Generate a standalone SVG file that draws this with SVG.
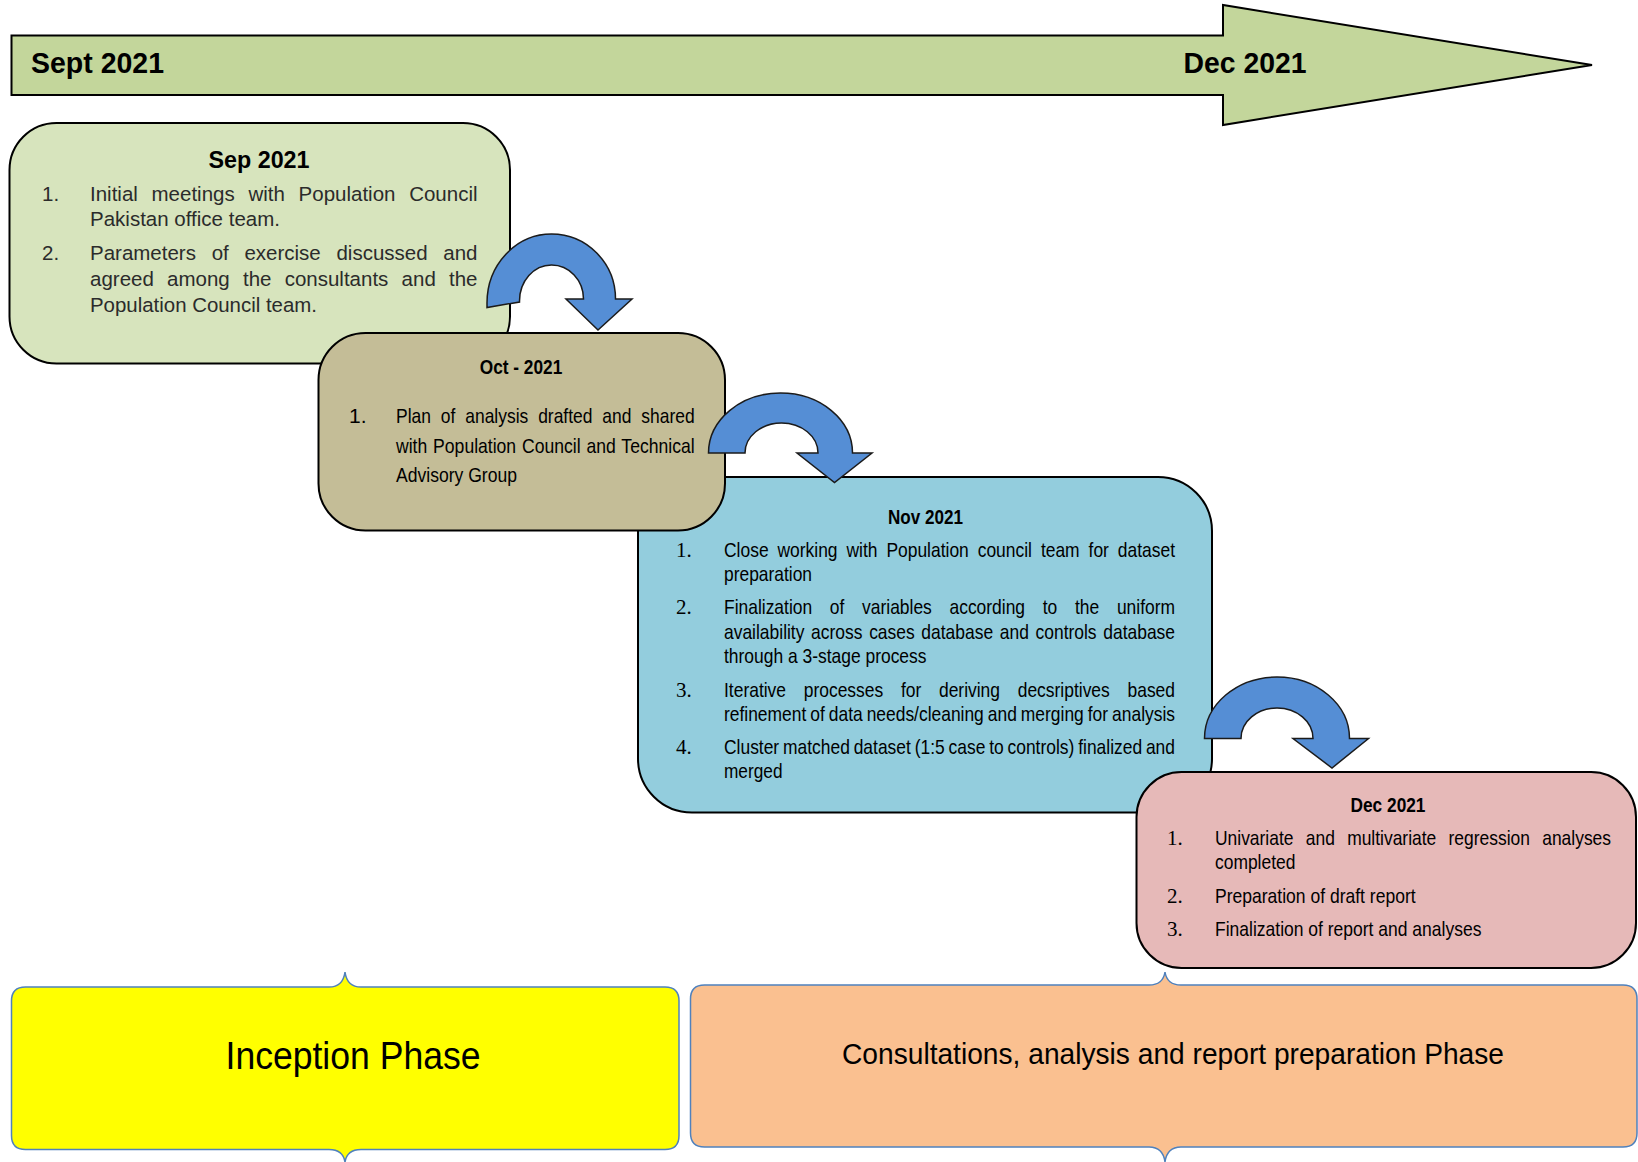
<svg xmlns="http://www.w3.org/2000/svg" width="1638" height="1162" viewBox="0 0 1638 1162">
<style>
.box{stroke:#000;stroke-width:2}
.t{font-family:"Liberation Sans",Arial,sans-serif;fill:#000}
.g{fill:#2b2b2b}
.b{font-weight:bold}
.n{font-family:"Liberation Serif","Times New Roman",serif;font-size:21px;fill:#000}
.s20{font-size:20.5px}
.s21{font-size:21px}
.arr{fill:#558ED5;stroke:#1b1b1b;stroke-width:1.5;stroke-linejoin:miter}
.ph{stroke:#4F81BD;stroke-width:1.5}
</style>
<rect width="1638" height="1162" fill="#fff"/>

<g id="timeline">
<polygon points="11.5,35.5 1223,35.5 1223,5 1592,65 1223,125 1223,95 11.5,95" fill="#C3D69B" stroke="#000" stroke-width="2"/>
<text class="t b" x="31" y="73" font-size="30" textLength="133" lengthAdjust="spacingAndGlyphs">Sept 2021</text>
<text class="t b" x="1183.5" y="73" font-size="30" textLength="123" lengthAdjust="spacingAndGlyphs">Dec 2021</text>
</g>

<g id="sep2021">
<rect class="box" x="9.5" y="123" width="500.5" height="240.5" rx="47" fill="#D7E4BD"/>
<text class="t b" x="259" y="168" font-size="24" text-anchor="middle" textLength="101" lengthAdjust="spacingAndGlyphs">Sep 2021</text>
<text class="t g s20" x="42" y="200.5">1.</text>
<text class="t g s20" x="90" y="200.5" word-spacing="8" textLength="387.5" lengthAdjust="spacingAndGlyphs">Initial meetings with Population Council</text>
<text class="t g s20" x="90" y="225.6" textLength="190" lengthAdjust="spacingAndGlyphs">Pakistan office team.</text>
<text class="t g s20" x="42" y="260">2.</text>
<text class="t g s20" x="90" y="260" word-spacing="10" textLength="387.5" lengthAdjust="spacingAndGlyphs">Parameters of exercise discussed and</text>
<text class="t g s20" x="90" y="286" word-spacing="7.5" textLength="387.5" lengthAdjust="spacingAndGlyphs">agreed among the consultants and the</text>
<text class="t g s20" x="90" y="312" textLength="227" lengthAdjust="spacingAndGlyphs">Population Council team.</text>
</g>

<g id="nov2021">
<rect class="box" x="638" y="477" width="574" height="335.5" rx="54" fill="#93CDDD"/>
<text class="t b" x="925.5" y="523.5" font-size="20" text-anchor="middle" textLength="75" lengthAdjust="spacingAndGlyphs">Nov 2021</text>
<text class="n" x="676" y="557">1.</text>
<text class="t s21" x="724" y="557" word-spacing="4.9" textLength="451" lengthAdjust="spacingAndGlyphs">Close working with Population council team for dataset</text>
<text class="t s21" x="724" y="581" textLength="88" lengthAdjust="spacingAndGlyphs">preparation</text>
<text class="n" x="676" y="614.2">2.</text>
<text class="t s21" x="724" y="614.2" word-spacing="15.5" textLength="451" lengthAdjust="spacingAndGlyphs">Finalization of variables according to the uniform</text>
<text class="t s21" x="724" y="639.3" word-spacing="2.2" textLength="451" lengthAdjust="spacingAndGlyphs">availability across cases database and controls database</text>
<text class="t s21" x="724" y="663.3" textLength="202.5" lengthAdjust="spacingAndGlyphs">through a 3-stage process</text>
<text class="n" x="676" y="696.7">3.</text>
<text class="t s21" x="724" y="696.7" word-spacing="15.5" textLength="451" lengthAdjust="spacingAndGlyphs">Iterative processes for deriving decsriptives based</text>
<text class="t s21" x="724" y="720.8" word-spacing="-1" textLength="451" lengthAdjust="spacingAndGlyphs">refinement of data needs/cleaning and merging for analysis</text>
<text class="n" x="676" y="754.2">4.</text>
<text class="t s21" x="724" y="754.2" word-spacing="-1.2" textLength="451" lengthAdjust="spacingAndGlyphs">Cluster matched dataset (1:5 case to controls) finalized and</text>
<text class="t s21" x="724" y="778.2" textLength="58.5" lengthAdjust="spacingAndGlyphs">merged</text>
</g>

<g id="oct2021">
<rect class="box" x="318.5" y="333" width="406.5" height="197.5" rx="47" fill="#C4BD97"/>
<text class="t b" x="521" y="374" font-size="20" text-anchor="middle" textLength="82.5" lengthAdjust="spacingAndGlyphs">Oct - 2021</text>
<text class="t s21" x="349" y="423">1.</text>
<text class="t s21" x="396" y="423" word-spacing="6.1" textLength="298.6" lengthAdjust="spacingAndGlyphs">Plan of analysis drafted and shared</text>
<text class="t s21" x="396" y="452.5" word-spacing="1.2" textLength="298.6" lengthAdjust="spacingAndGlyphs">with Population Council and Technical</text>
<text class="t s21" x="396" y="482" textLength="121" lengthAdjust="spacingAndGlyphs">Advisory Group</text>
</g>

<g id="dec2021">
<rect class="box" x="1136.5" y="772" width="499.5" height="196" rx="45" fill="#E6B9B8"/>
<text class="t b" x="1388" y="811.7" font-size="20" text-anchor="middle" textLength="75" lengthAdjust="spacingAndGlyphs">Dec 2021</text>
<text class="n" x="1167" y="845">1.</text>
<text class="t s21" x="1215" y="845" word-spacing="9" textLength="396" lengthAdjust="spacingAndGlyphs">Univariate and multivariate regression analyses</text>
<text class="t s21" x="1215" y="869" textLength="80.4" lengthAdjust="spacingAndGlyphs">completed</text>
<text class="n" x="1167" y="902.5">2.</text>
<text class="t s21" x="1215" y="902.5" textLength="200.6" lengthAdjust="spacingAndGlyphs">Preparation of draft report</text>
<text class="n" x="1167" y="936">3.</text>
<text class="t s21" x="1215" y="936" textLength="266.4" lengthAdjust="spacingAndGlyphs">Finalization of report and analyses</text>
</g>

<g id="inception-phase">
<path class="ph" fill="#FFFF00" d="M11.5,1001 Q11.5,987 25.5,987 L329,987 Q343,987 345,972 Q347,987 361,987 L665,987 Q679,987 679,1001 L679,1135.5 Q679,1149.5 665,1149.5 L361,1149.5 Q347,1149.5 345,1162 Q343,1149.5 329,1149.5 L25.5,1149.5 Q11.5,1149.5 11.5,1135.5 Z"/>
<text class="t" x="353" y="1068.6" font-size="39" text-anchor="middle" textLength="255" lengthAdjust="spacingAndGlyphs">Inception Phase</text>
</g>

<g id="consultation-phase">
<path class="ph" fill="#FAC090" d="M690.5,999 Q690.5,985 704.5,985 L1149,985 Q1163,985 1165,972 Q1167,985 1181,985 L1623,985 Q1637,985 1637,999 L1637,1133 Q1637,1147 1623,1147 L1181,1147 Q1167,1147 1165,1162 Q1163,1147 1149,1147 L704.5,1147 Q690.5,1147 690.5,1133 Z"/>
<text class="t" x="1173" y="1064" font-size="29.5" text-anchor="middle" textLength="662" lengthAdjust="spacingAndGlyphs">Consultations, analysis and report preparation Phase</text>
</g>

<g id="connectors">
<path class="arr" d="M487,307.5 L487,303 A64.5,69 0 0 1 551.5,234 A64,65 0 0 1 615.5,299 L632,299 L598,330 L566,299 L583.5,299 A32,34 0 0 0 551.5,265 A32,36 0 0 0 519.5,301 L519.5,302 Z"/>
<path class="arr" d="M708.5,453 A72,60 0 0 1 852.5,453 L872,453 L834.5,482.5 L797,453 L818,453 A36.5,30 0 0 0 745,453 Z"/>
<path class="arr" d="M1204.5,738.5 A72.5,61.5 0 0 1 1349.5,738.5 L1368.5,738.5 L1332,768 L1293,738.5 L1313,738.5 A36,30.5 0 0 0 1241,738.5 Z"/>
</g>
</svg>
